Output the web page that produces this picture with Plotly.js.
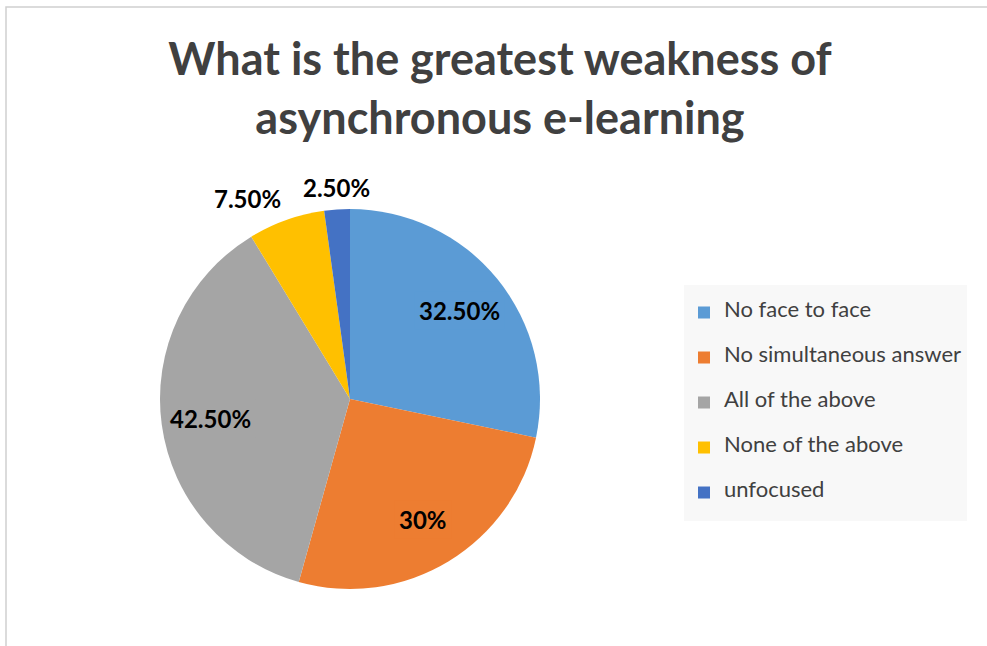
<!DOCTYPE html>
<html>
<head>
<meta charset="utf-8">
<script src="https://cdn.plot.ly/plotly-3.0.1.min.js"></script>
<style>html,body{margin:0;padding:0;background:#fff;}#chart{width:987px;height:646px;}</style>
</head>
<body>
<div id="chart"></div>
<script>
const categories = ["No face to face", "No simultaneous answer", "All of the above", "None of the above", "unfocused"];
const values = [32.5, 30, 42.5, 7.5, 2.5];
const valueLabels = ["32.50%", "30%", "42.50%", "7.50%", "2.50%"];
const colors = ["#5B9BD5", "#ED7D31", "#A5A5A5", "#FFC000", "#4472C4"];

const W = 987, H = 646;
const cx = 350, cy = 399, R = 190;

const legendLabels = categories.map(c => '&nbsp;<br><span style="font-size:22px">' + c + '</span><br>&nbsp;');

const trace = {
  type: 'pie',
  labels: legendLabels,
  values: values,
  textinfo: 'none',
  hoverinfo: 'none',
  sort: false,
  direction: 'clockwise',
  rotation: 0,
  marker: {colors: colors, line: {width: 0}},
  domain: {x: [(cx - R) / W, (cx + R) / W], y: [(H - cy - R) / H, (H - cy + R) / H]},
  automargin: false
};

// data labels, placed from each slice's mid-angle
const total = values.reduce((a, b) => a + b, 0);
const annotations = [];
let cum = 0;
values.forEach((v, i) => {
  const mid = (cum + v / 2) / total * 2 * Math.PI;
  cum += v;
  const outside = v / total < 0.1;
  const r = outside ? R + 2 : 0.74 * R;
  const px = cx + r * Math.sin(mid);
  const py = cy - r * Math.cos(mid);
  const s = Math.sin(mid);
  annotations.push({
    xref: 'paper', yref: 'paper', x: px / W, y: 1 - py / H,
    text: valueLabels[i], showarrow: false, borderpad: 4,
    xanchor: outside ? (s < -0.2 ? 'right' : (s > 0.2 ? 'left' : 'center')) : 'center',
    yanchor: outside ? 'bottom' : 'middle',
    font: {family: 'Lato, sans-serif', size: 24, weight: 'bold', color: '#000000'},
    bgcolor: outside ? '#FFFFFF' : colors[i]
  });
});

const layout = {
  width: W, height: H,
  margin: {l: 0, r: 0, t: 0, b: 0},
  paper_bgcolor: '#ffffff',
  title: {
    text: 'What is the greatest weakness of<br>asynchronous e-learning',
    font: {family: 'Lato, sans-serif', size: 45, color: '#404040', weight: 'bold'},
    x: 500 / W, xanchor: 'center', xref: 'paper',
    y: 1 - 75 / H, yanchor: 'middle', yref: 'container'
  },
  showlegend: true,
  legend: {
    x: 684 / W, xanchor: 'left',
    y: 1 - 285 / H, yanchor: 'top',
    bgcolor: '#F8F8F8',
    font: {family: 'Lato, sans-serif', size: 10.77, color: '#404040'},
    itemwidth: 30
  },
  annotations: annotations,
  shapes: [{
    type: 'rect', xref: 'paper', yref: 'paper',
    x0: 6 / W, x1: 1.05, y0: -0.05, y1: 1 - 7 / H,
    line: {color: '#D0D0D0', width: 1.5}, fillcolor: 'rgba(0,0,0,0)', layer: 'below'
  }]
};

Plotly.newPlot('chart', [trace], layout, {displayModeBar: false, staticPlot: true});
</script>
</body>
</html>
